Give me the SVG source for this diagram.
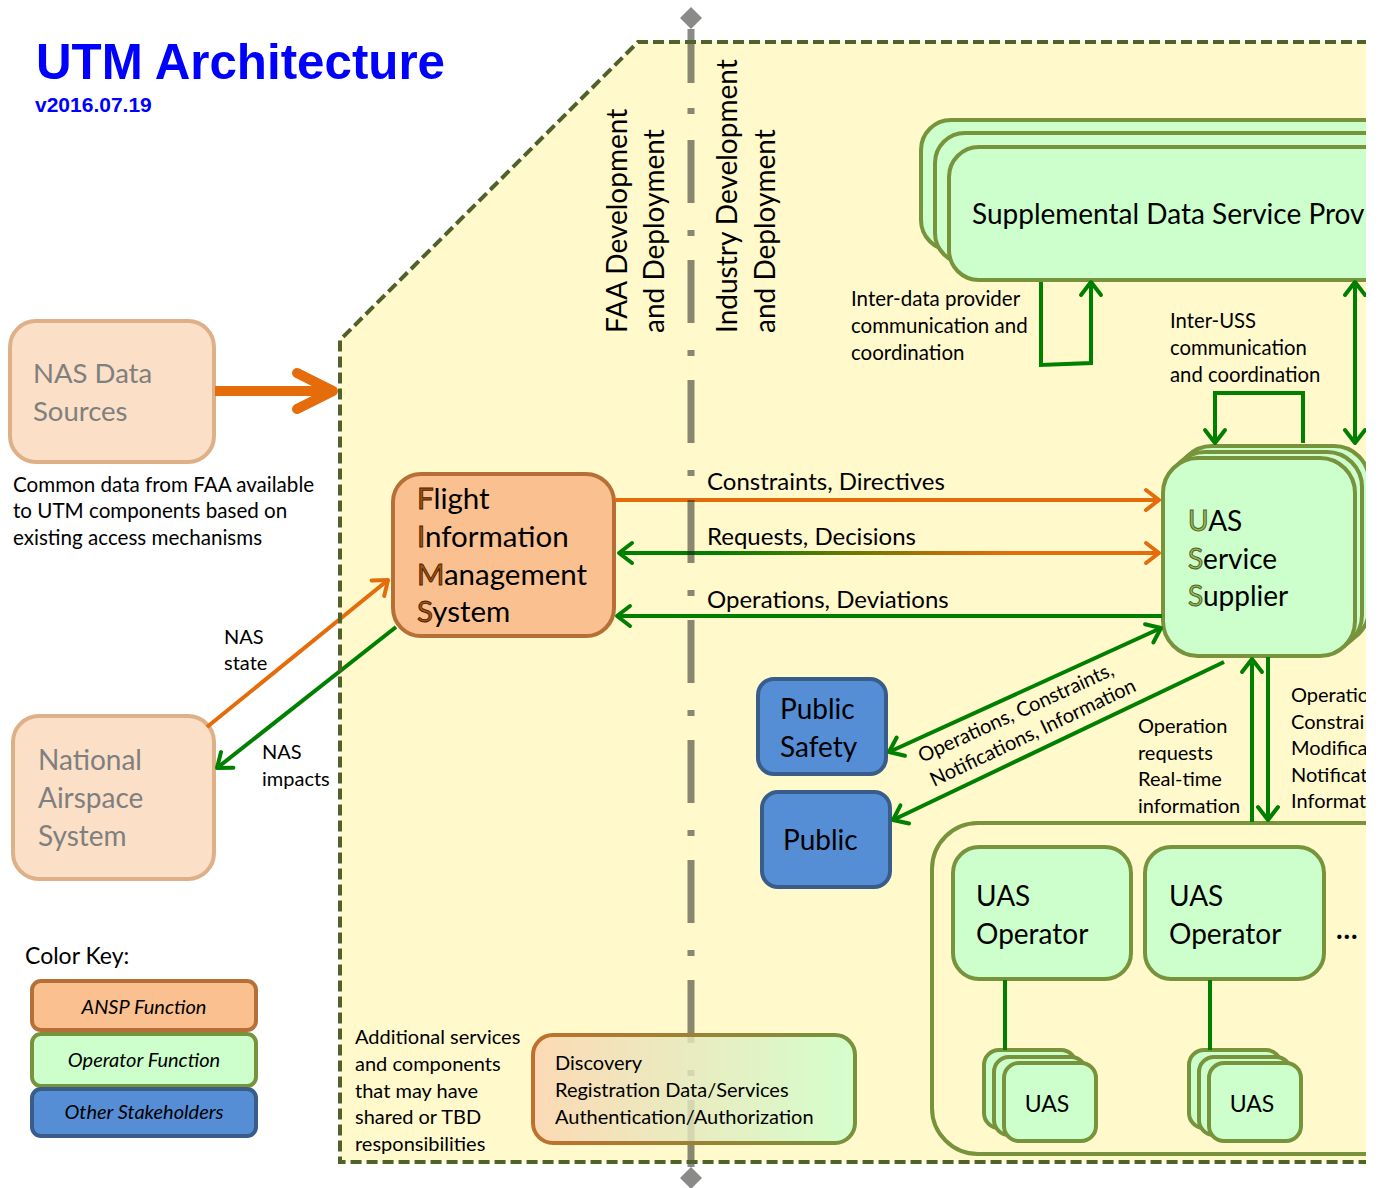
<svg xmlns="http://www.w3.org/2000/svg" width="1380" height="1188" viewBox="0 0 1380 1188">
<defs>
<style>
.t{font-family:Lato,"Open Sans","Liberation Sans",sans-serif;fill:#000}
.s{font-size:20px}
.m{font-size:24px}
.b{font-size:28px}
.f{font-size:29.5px}
.gray{fill:#7f7f7f}
.gbox{fill:#ccffcc;stroke:#77933c;stroke-width:4}
.obox{fill:#fac090;stroke:#b66f36;stroke-width:4}
.nbox{fill:#fbdfc6;stroke:#ddb087;stroke-width:4}
.bbox{fill:#558ed5;stroke:#385d8a;stroke-width:4}
.ga{stroke:#008000;stroke-width:4;fill:none}
.oa{stroke:#e46c0a;stroke-width:4;fill:none}
.fl{fill:#a0520f;stroke:#4a2200;stroke-width:0.9}
.ul{fill:#9bbb59;stroke:#4f6228;stroke-width:1}
.key{font-size:20px;font-style:italic;text-anchor:middle}
</style>
<marker id="ag" markerUnits="userSpaceOnUse" markerWidth="22" markerHeight="28" refX="16" refY="13" orient="auto-start-reverse" viewBox="0 0 22 28">
<path d="M3,3 L16,13 L3,23" fill="none" stroke="#008000" stroke-width="4" stroke-linecap="round" stroke-linejoin="round"/>
</marker>
<marker id="ao" markerUnits="userSpaceOnUse" markerWidth="22" markerHeight="28" refX="16" refY="13" orient="auto-start-reverse" viewBox="0 0 22 28">
<path d="M3,3 L16,13 L3,23" fill="none" stroke="#e46c0a" stroke-width="4" stroke-linecap="round" stroke-linejoin="round"/>
</marker>
<marker id="abig" markerUnits="userSpaceOnUse" markerWidth="60" markerHeight="60" refX="44" refY="30" orient="auto" viewBox="0 0 60 60">
<path d="M8,12 L44,30 L8,48" fill="none" stroke="#e46c0a" stroke-width="10" stroke-linecap="round" stroke-linejoin="round"/>
</marker>
<linearGradient id="rq" gradientUnits="userSpaceOnUse" x1="720" y1="0" x2="1000" y2="0">
<stop offset="0" stop-color="#008000"/>
<stop offset="1" stop-color="#e46c0a"/>
</linearGradient>
<linearGradient id="dfill" x1="0" y1="0" x2="1" y2="0">
<stop offset="0" stop-color="#fbd3b0"/>
<stop offset="1" stop-color="#ccffcc"/>
</linearGradient>
<linearGradient id="dstroke" x1="0" y1="0" x2="1" y2="0">
<stop offset="0" stop-color="#c0702c"/>
<stop offset="1" stop-color="#77933c"/>
</linearGradient>
<clipPath id="clip"><rect x="0" y="0" width="1366" height="1188"/></clipPath>
</defs>
<rect x="0" y="0" width="1380" height="1188" fill="#ffffff"/>
<g clip-path="url(#clip)">
<g id="title">
<text x="36" y="79" font-family="'Liberation Sans',Arial,sans-serif" font-weight="bold" font-size="49.3" fill="#0000ff">UTM Architecture</text>
<text x="35" y="112" font-family="'Liberation Sans',Arial,sans-serif" font-weight="bold" font-size="21" fill="#0000ff">v2016.07.19</text>
</g>
<g id="utm-area">
<polygon points="340,1162 340,340 638,42 1400,42 1400,1162" fill="#fff9cc"/>
</g>

<g id="sdsp">
<rect x="921" y="120" width="520" height="130" rx="30" class="gbox"/>
<rect x="935" y="133" width="520" height="130" rx="30" class="gbox"/>
<rect x="949" y="147" width="520" height="133" rx="30" class="gbox"/>
<text class="t b" x="972" y="224">Supplemental Data Service Prov</text>
</g>

<g id="uss">
<rect x="1177" y="446" width="192" height="198" rx="35" class="gbox"/>
<rect x="1170" y="452" width="192" height="198" rx="35" class="gbox"/>
<rect x="1163" y="458" width="192" height="198" rx="35" class="gbox"/>
<text class="t b" x="1188" y="531"><tspan class="ul">U</tspan>AS</text>
<text class="t b" x="1188" y="569"><tspan class="ul">S</tspan>ervice</text>
<text class="t b" x="1188" y="606"><tspan class="ul">S</tspan>upplier</text>
</g>

<g id="fims">
<rect x="393" y="474" width="221" height="162" rx="28" class="obox"/>
<text class="t f" x="417" y="509"><tspan class="fl">F</tspan>light</text>
<text class="t f" x="417" y="547"><tspan class="fl">I</tspan>nformation</text>
<text class="t f" x="417" y="585"><tspan class="fl">M</tspan>anagement</text>
<text class="t f" x="417" y="622"><tspan class="fl">S</tspan>ystem</text>
</g>

<g id="nas-data">
<rect x="10" y="321" width="204" height="141" rx="26" class="nbox"/>
<text class="t gray" font-size="27.5" x="33" y="383">NAS Data</text>
<text class="t gray" font-size="27.5" x="33" y="421">Sources</text>
</g>
<g id="nas-note">
<text class="t" font-size="20.6" x="13" y="492">Common data from FAA available</text>
<text class="t" font-size="20.6" x="13" y="518">to UTM components based on</text>
<text class="t" font-size="20.6" x="13" y="545">existing access mechanisms</text>
</g>

<g id="nas">
<rect x="13" y="716" width="201" height="163" rx="26" class="nbox"/>
<text class="t b gray" x="38" y="770">National</text>
<text class="t b gray" x="38" y="808">Airspace</text>
<text class="t b gray" x="38" y="846">System</text>
</g>

<g id="public-safety">
<rect x="758" y="679" width="128" height="95" rx="16" class="bbox"/>
<text class="t b" x="780" y="719">Public</text>
<text class="t b" x="780" y="757">Safety</text>
</g>
<g id="public">
<rect x="762" y="792" width="128" height="95" rx="16" class="bbox"/>
<text class="t b" x="783" y="850">Public</text>
</g>

<g id="operators">
<rect x="932" y="823" width="520" height="331" rx="46" fill="none" stroke="#77933c" stroke-width="4"/>
</g>
<g id="operator1">
<rect x="953" y="847" width="178" height="132" rx="26" class="gbox"/>
<text class="t b" x="976" y="906">UAS</text>
<text class="t b" x="976" y="944">Operator</text>
</g>
<g id="operator2">
<rect x="1145" y="847" width="179" height="132" rx="26" class="gbox"/>
<text class="t b" x="1169" y="906">UAS</text>
<text class="t b" x="1169" y="944">Operator</text>
</g>
<text class="t" font-size="28" font-weight="bold" x="1336" y="939">…</text>
<g id="uas1">
<rect x="984" y="1050" width="92" height="78" rx="15" class="gbox"/>
<rect x="994" y="1057" width="92" height="78" rx="15" class="gbox"/>
<rect x="1004" y="1063" width="92" height="78" rx="15" class="gbox"/>
<text class="t" font-size="23" x="1047" y="1112" text-anchor="middle">UAS</text>
</g>
<g id="uas2">
<rect x="1189" y="1050" width="92" height="78" rx="15" class="gbox"/>
<rect x="1199" y="1057" width="92" height="78" rx="15" class="gbox"/>
<rect x="1209" y="1063" width="92" height="78" rx="15" class="gbox"/>
<text class="t" font-size="23" x="1252" y="1112" text-anchor="middle">UAS</text>
</g>

<g id="connectors">
<line x1="215" y1="391" x2="333" y2="391" stroke="#e46c0a" stroke-width="10" marker-end="url(#abig)"/>
<line x1="207" y1="727" x2="388" y2="580" class="oa" marker-end="url(#ao)"/>
<line x1="396" y1="627" x2="217" y2="768" class="ga" marker-end="url(#ag)"/>
<line x1="615" y1="500" x2="1159" y2="500" class="oa" marker-end="url(#ao)"/>
<line x1="619" y1="553" x2="1159" y2="553" stroke="url(#rq)" stroke-width="4" marker-end="url(#ao)"/>
<path d="M619,553 L640,553" class="ga" marker-start="url(#ag)"/>
<line x1="1162" y1="616" x2="617" y2="616" class="ga" marker-end="url(#ag)"/>
<line x1="889" y1="752" x2="1161" y2="628" class="ga" marker-start="url(#ag)" marker-end="url(#ag)"/>
<line x1="1224" y1="662" x2="893" y2="820" class="ga" marker-end="url(#ag)"/>
<polyline points="1041,282 1041,365 1091,363 1091,282" class="ga" marker-end="url(#ag)"/>
<line x1="1355" y1="282" x2="1355" y2="443" class="ga" marker-start="url(#ag)" marker-end="url(#ag)"/>
<polyline points="1303,443 1303,393 1215,393 1215,443" class="ga" marker-end="url(#ag)"/>
<line x1="1252" y1="822" x2="1252" y2="659" class="ga" marker-end="url(#ag)"/>
<line x1="1268" y1="657" x2="1268" y2="820" class="ga" marker-end="url(#ag)"/>
<line x1="1005" y1="980" x2="1005" y2="1050" class="ga"/>
<line x1="1210" y1="980" x2="1210" y2="1050" class="ga"/>
</g>

<g id="labels">
<text class="t m" x="707" y="490">Constraints, Directives</text>
<text class="t m" x="707" y="545">Requests, Decisions</text>
<text class="t m" x="707" y="608">Operations, Deviations</text>
<text class="t s" x="224" y="644">NAS</text>
<text class="t s" x="224" y="670">state</text>
<text class="t s" x="262" y="759">NAS</text>
<text class="t s" x="262" y="786">impacts</text>
<text class="t" font-size="20.5" x="851" y="306">Inter-data provider</text>
<text class="t" font-size="20.5" x="851" y="333">communication and</text>
<text class="t" font-size="20.5" x="851" y="360">coordination</text>
<text class="t" font-size="20.3" x="1170" y="328">Inter-USS</text>
<text class="t" font-size="20.3" x="1170" y="355">communication</text>
<text class="t" font-size="20.3" x="1170" y="382">and coordination</text>
<text class="t s" transform="translate(922,763) rotate(-24.6)">Operations, Constraints,</text>
<text class="t s" transform="translate(934,787) rotate(-25.4)">Notifications, Information</text>
<text class="t s" x="1138" y="733">Operation</text>
<text class="t s" x="1138" y="760">requests</text>
<text class="t s" x="1138" y="786">Real-time</text>
<text class="t s" x="1138" y="813">information</text>
<text class="t s" x="1291" y="702">Operatio</text>
<text class="t s" x="1291" y="729">Constrai</text>
<text class="t s" x="1291" y="755">Modifica</text>
<text class="t s" x="1291" y="782">Notificat</text>
<text class="t s" x="1291" y="808">Informat</text>
</g>

<g id="jurisdiction">
<text class="t b" transform="translate(627,333) rotate(-90)">FAA Development</text>
<text class="t b" transform="translate(664,333) rotate(-90)">and Deployment</text>
<text class="t b" transform="translate(737,333) rotate(-90)">Industry Development</text>
<text class="t b" transform="translate(775,333) rotate(-90)">and Deployment</text>
</g>

<g id="divider" stroke="#22221e" stroke-opacity="0.53" fill="#22221e" fill-opacity="0.53">
<path d="M691,7 L702,18 L691,29 L680,18 Z" stroke="none"/>
<line x1="691" y1="29" x2="691" y2="83" stroke-width="7"/>
<line x1="691" y1="108" x2="691" y2="114" stroke-width="7"/>
<line x1="691" y1="140" x2="691" y2="1100" stroke-width="7" stroke-dasharray="63 27 6 24"/>
<line x1="691" y1="1100" x2="691" y2="1167" stroke-width="7"/>
<path d="M691,1167 L702,1178 L691,1189 L680,1178 Z" stroke="none"/>
</g>

<polyline points="1400,42 638,42 340,340 340,1162 1400,1162" fill="none" stroke="#4f6228" stroke-width="4" stroke-dasharray="11 5"/>

<g id="additional">
<text class="t s" x="355" y="1044">Additional services</text>
<text class="t s" x="355" y="1071">and components</text>
<text class="t s" x="355" y="1098">that may have</text>
<text class="t s" x="355" y="1124">shared or TBD</text>
<text class="t s" x="355" y="1151">responsibilities</text>
</g>
<g id="discovery">
<rect x="533" y="1035" width="322" height="108" rx="20" fill="url(#dfill)" fill-opacity="0.82" stroke="url(#dstroke)" stroke-width="4"/>
<text class="t s" x="555" y="1070">Discovery</text>
<text class="t s" x="555" y="1097">Registration Data/Services</text>
<text class="t s" x="555" y="1124">Authentication/Authorization</text>
</g>

<g id="color-key">
<text class="t" font-size="23" x="25" y="964">Color Key:</text>
<rect x="32" y="981" width="224" height="49" rx="9" class="obox"/>
<text class="t key" x="144" y="1014">ANSP Function</text>
<rect x="32" y="1034" width="224" height="52" rx="9" class="gbox"/>
<text class="t key" x="144" y="1067">Operator Function</text>
<rect x="32" y="1089" width="224" height="47" rx="9" class="bbox"/>
<text class="t key" x="144" y="1119">Other Stakeholders</text>
</g>
</g>
</svg>
